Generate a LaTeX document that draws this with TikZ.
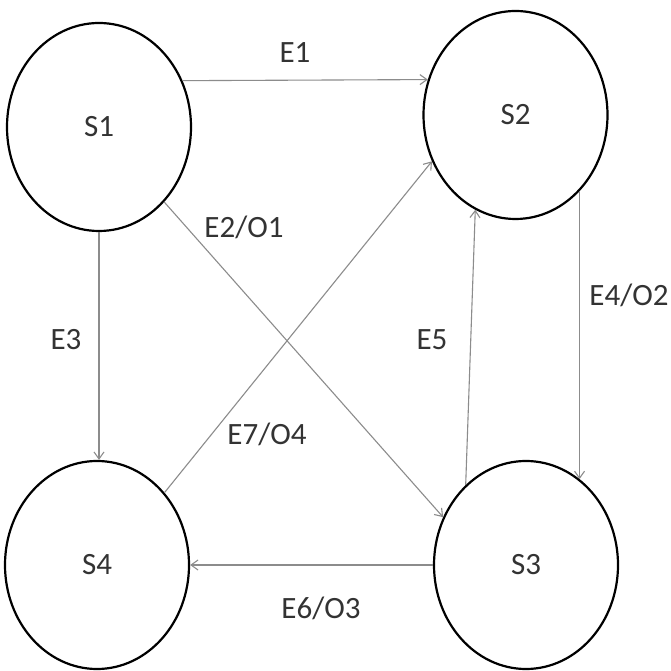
\documentclass[tikz,border=0pt]{standalone}
\usepackage{fontspec}
\setmainfont{Carlito}
\usetikzlibrary{shapes.geometric,arrows.meta}
\begin{document}
\begin{tikzpicture}[x=1pt,y=1pt,
  state/.style={ellipse,draw=black,line width=2.2pt,minimum width=184pt,minimum height=208pt,inner sep=0pt,text=black!80,font=\fontsize{31}{36}\selectfont},
  arr/.style={draw=black!45,line width=1.1pt,-{Straight Barb[length=7pt,width=10pt]}},
  lbl/.style={text=black!80,font=\fontsize{31}{36}\selectfont,inner sep=0pt}]
\useasboundingbox[fill=white] (0,0) rectangle (671,671);
\node[state] (s1) at (99,544) {S1};
\node[state] (s2) at (515.5,556) {S2};
\node[state] (s3) at (526,106) {S3};
\node[state] (s4) at (97,106) {S4};
% connectors
\draw[arr] (s1.29) -- (s2.158.7);
\draw[arr] (s1.-49.8) -- (s3.150.5);
\draw[arr] (s1.south) -- (s1.south |- s4.north);
\draw[arr] (s2.-50) -- (s2.-50 |- s3.58);
\draw[arr] (s3.127.3) -- (s2.247.3);
\draw[arr] (s3.west) -- (s4.east);
\draw[arr] (s4.47.7) -- (s2.209.9);
% labels
\node[lbl] (l1) at (295,618) {E1};
\node[lbl] (l2) at (244,444) {E2/O1};
\node[lbl] (l3) at (66,331) {E3};
\node[lbl] (l4) at (629,376) {E4/O2};
\node[lbl] (l5) at (432,331) {E5};
\node[lbl] (l7) at (267,237) {E7/O4};
\node[lbl] (l6) at (321,63) {E6/O3};
\end{tikzpicture}
\end{document}
